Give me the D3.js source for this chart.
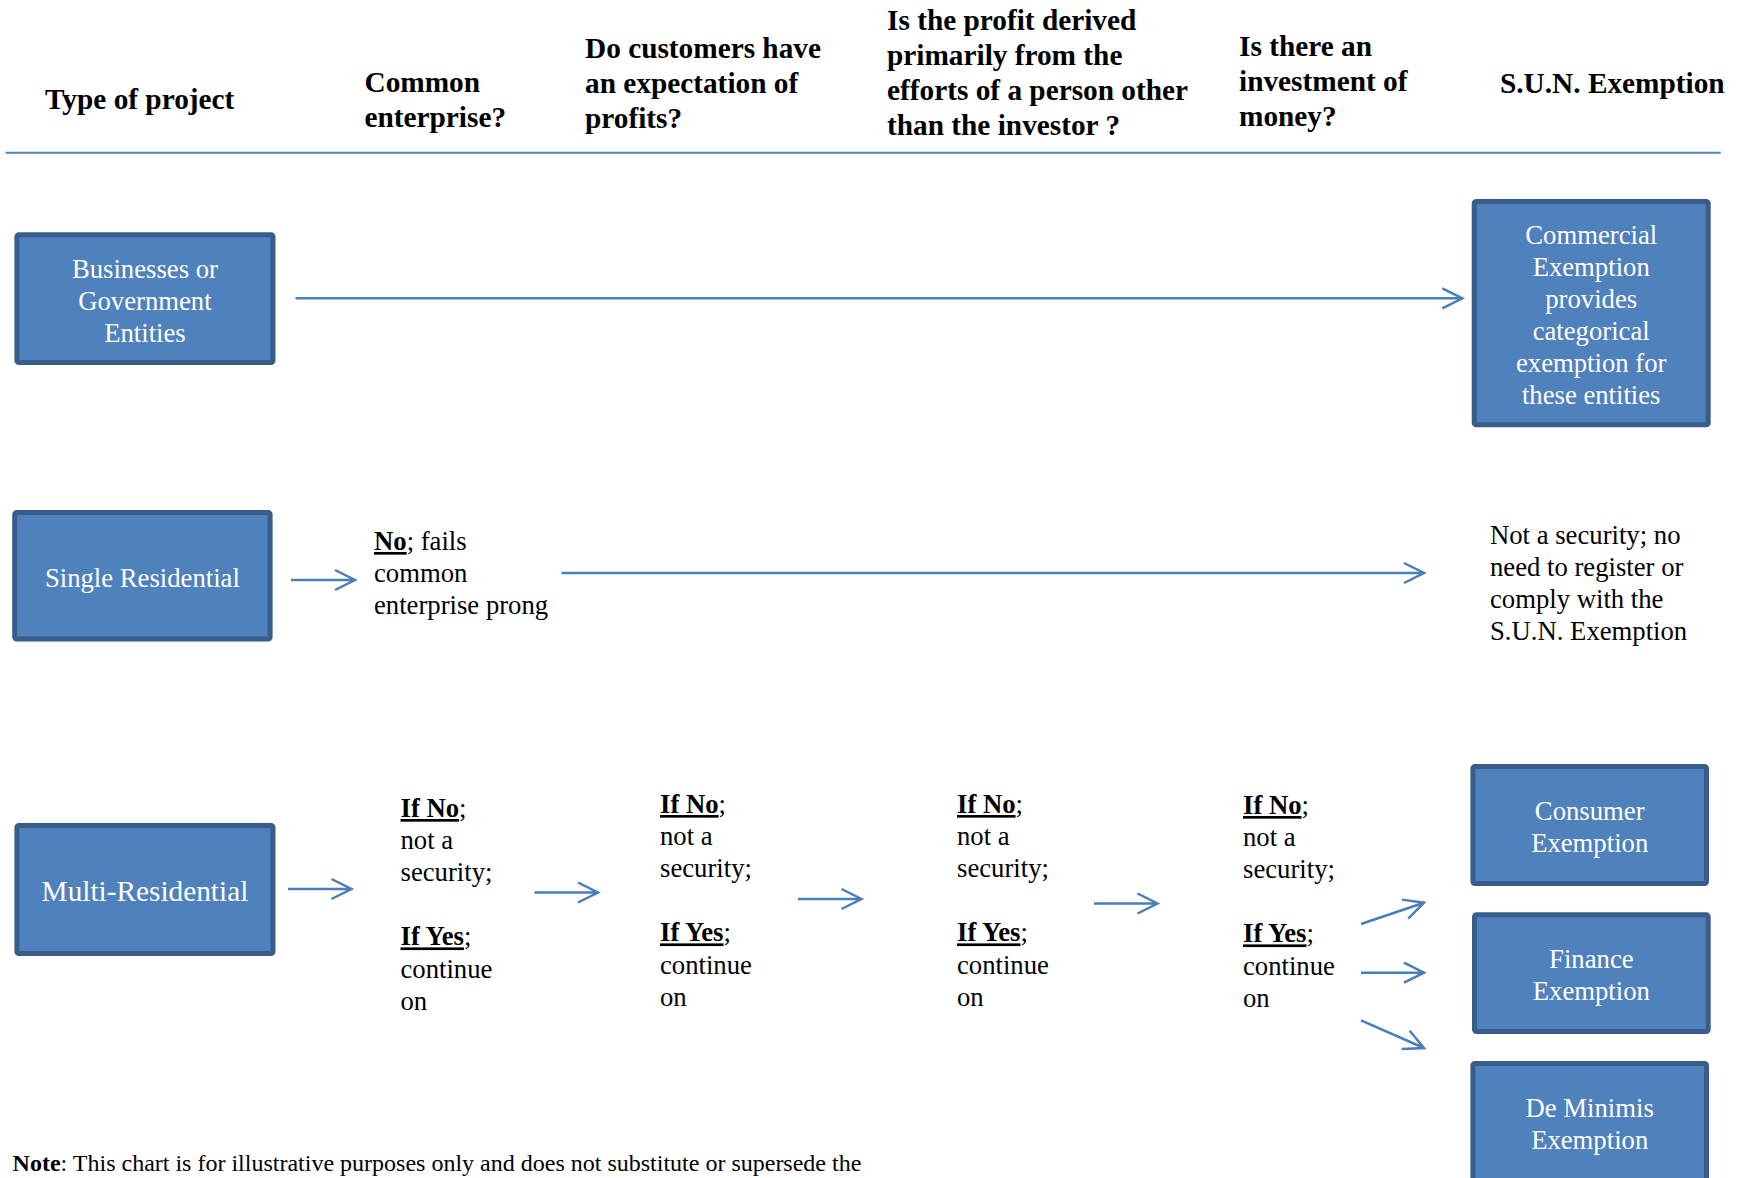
<!DOCTYPE html>
<html>
<head>
<meta charset="utf-8">
<script src="https://cdn.jsdelivr.net/npm/d3@7"></script>
<style>
    body { margin: 0; background: #fff; }
    svg { display: block; }
    text { font-family: "Liberation Serif", "Times New Roman", serif; }
</style>
</head>
<body>
<svg id="chart"></svg>
<script>
// ---- chart content ----
const columns = ['type', 'common', 'profits', 'efforts', 'investment', 'exemption'];
const headerLines = [
    ['Type of project'],
    ['Common', 'enterprise?'],
    ['Do customers have', 'an expectation of', 'profits?'],
    ['Is the profit derived', 'primarily from the', 'efforts of a person other', 'than the investor ?'],
    ['Is there an', 'investment of', 'money?'],
    ['S.U.N. Exemption']
];
const projectTypes = ['business', 'single', 'multi'];
const projectLabels = [
    ['Businesses or', 'Government', 'Entities'],
    ['Single Residential'],
    ['Multi-Residential']
];
const commercialLabel = ['Commercial', 'Exemption', 'provides', 'categorical', 'exemption for', 'these entities'];
const singleFailLines = ['*No*; fails', 'common', 'enterprise prong'];
const notSecurityLines = ['Not a security; no', 'need to register or', 'comply with the', 'S.U.N. Exemption'];
const testSteps = ['common', 'profits', 'efforts', 'investment'];
const stepLines = ['*If No*;', 'not a', 'security;', '', '*If Yes*;', 'continue', 'on'];
const exemptionTypes = ['consumer', 'finance', 'deminimis'];
const exemptionLabels = [['Consumer', 'Exemption'], ['Finance', 'Exemption'], ['De Minimis', 'Exemption']];
const noteText = '#Note#: This chart is for illustrative purposes only and does not substitute or supersede the';

// ---- layout ----
const width = 1745, height = 1178;
const blue = '#4f81bd', border = '#385d8a', arrowBlue = '#4a7ebb';
const bodySize = 26.7, headSize = 29.3, lineH = 32.1;

const headX = d3.scaleOrdinal().domain(columns).range([45, 364.5, 585, 887, 1239, 1500]);
const headY = d3.scaleOrdinal().domain(columns).range([108.5, 92, 58, 29.5, 56, 93]);

// outer edges of the boxes [x0, y0, x1, y1]
const projectBox = d3.scaleOrdinal().domain(projectTypes)
    .range([[14.4, 232.3, 275.5, 365], [12.2, 510, 272.6, 641.5], [14.4, 823, 275.5, 956]]);
const projectSize = d3.scaleOrdinal().domain(projectTypes).range([bodySize, bodySize, headSize]);
const commercialBox = [1471.7, 199, 1710.7, 427.3];
const exemptionBox = d3.scaleOrdinal().domain(exemptionTypes)
    .range([[1470.4, 764, 1709, 886], [1472, 912.3, 1710.7, 1034], [1470.4, 1061, 1709, 1183]]);

const stepX = d3.scaleOrdinal().domain(testSteps).range([400.5, 660, 957, 1243]);
const stepY = d3.scaleOrdinal().domain(testSteps).range([817, 813, 813, 814]);
const stepArrowX = d3.scaleOrdinal().domain(testSteps).range([288, 534.5, 798, 1094]);
const stepArrowY = d3.scaleOrdinal().domain(testSteps).range([889, 892.5, 899, 903.5]);
const fanY = d3.scaleOrdinal().domain(exemptionTypes).range([[924, 902.7], [972.7, 972.7], [1020.3, 1048]]);

const svg = d3.select('#chart')
    .attr('width', width)
    .attr('height', height);

// text with *bold underlined* and #bold# parts
function richLine(sel, str) {
    const parts = str.split(/(\*[^*]+\*|#[^#]+#)/).filter(function(p) { return p.length; });
    parts.forEach(function(p) {
        const t = sel.append('tspan');
        if (p[0] === '*') {
            t.text(p.slice(1, -1)).attr('font-weight', 'bold').style('text-decoration', 'underline');
        } else if (p[0] === '#') {
            t.text(p.slice(1, -1)).attr('font-weight', 'bold');
        } else {
            t.text(p);
        }
    });
}

function textBlock(g, lines, x, y0, opts) {
    opts = opts || {};
    g.selectAll(null)
        .data(lines)
      .enter()
      .append('text')
        .attr('x', x)
        .attr('y', function(d, i) { return y0 + i * (opts.lineH || lineH); })
        .attr('font-size', opts.size || bodySize)
        .attr('font-weight', opts.bold ? 'bold' : null)
        .attr('text-anchor', opts.anchor || 'start')
        .attr('fill', opts.fill || '#000')
        .each(function(d) { richLine(d3.select(this), d); });
}

function drawBox(b, lines, size) {
    const g = svg.append('g').attr('class', 'box');
    g.append('rect')
        .attr('x', b[0] + 2.5)
        .attr('y', b[1] + 2.5)
        .attr('width', b[2] - b[0] - 5)
        .attr('height', b[3] - b[1] - 5)
        .attr('rx', 2)
        .attr('fill', blue)
        .attr('stroke', border)
        .attr('stroke-width', 5);
    const cx = (b[0] + b[2]) / 2;
    const cy = (b[1] + b[3]) / 2;
    const first = cy - (lines.length - 1) / 2 * 32 + size * 0.34 + 2;
    textBlock(g, lines, cx, first, {size: size, lineH: 32, anchor: 'middle', fill: '#fff'});
}

function arrow(x1, y1, x2, y2) {
    const a = Math.atan2(y2 - y1, x2 - x1);
    const len = 20, half = 10;
    const bx = x2 - len * Math.cos(a), by = y2 - len * Math.sin(a);
    const p = d3.path();
    p.moveTo(x1, y1);
    p.lineTo(x2, y2);
    p.moveTo(bx - half * Math.sin(a), by + half * Math.cos(a));
    p.lineTo(x2, y2);
    p.lineTo(bx + half * Math.sin(a), by - half * Math.cos(a));
    svg.append('path')
        .attr('class', 'arrow')
        .attr('d', p.toString())
        .attr('fill', 'none')
        .attr('stroke', arrowBlue)
        .attr('stroke-width', 2.5);
}

// header
const head = svg.append('g').attr('class', 'header');
columns.forEach(function(c, i) {
    textBlock(head, headerLines[i], headX(c), headY(c), {size: headSize, lineH: 35, bold: true});
});
head.append('line')
    .attr('x1', 5.7).attr('x2', 1720.7)
    .attr('y1', 152.7).attr('y2', 152.7)
    .attr('stroke', blue)
    .attr('stroke-width', 2);

// project type boxes
projectTypes.forEach(function(p, i) {
    drawBox(projectBox(p), projectLabels[i], projectSize(p));
});

// row 1: businesses go straight to the commercial exemption
drawBox(commercialBox, commercialLabel, bodySize);
arrow(projectBox('business')[2] + 20, 298.3, commercialBox[0] - 9.4, 298.3);

// row 2: single residential fails the first prong
const single = svg.append('g').attr('class', 'single');
arrow(projectBox('single')[2] + 18.4, 580, projectBox('single')[2] + 82.4, 580);
textBlock(single, singleFailLines, headX('common') + 9.5, 550);
arrow(561.5, 573, 1424, 573);
textBlock(single, notSecurityLines, 1490, 543.5);

// row 3: multi-residential runs through every prong
const multi = svg.append('g').attr('class', 'multi');
testSteps.forEach(function(s) {
    arrow(stepArrowX(s), stepArrowY(s), stepArrowX(s) + 63.5, stepArrowY(s));
    textBlock(multi, stepLines, stepX(s), stepY(s));
});
exemptionTypes.forEach(function(e, i) {
    const y = fanY(e);
    arrow(1361, y[0], 1424, y[1]);
    drawBox(exemptionBox(e), exemptionLabels[i], bodySize);
});

// footnote along the bottom edge
textBlock(svg.append('g').attr('class', 'note'), [noteText], 12.6, 1171, {size: 24});
</script>
</body>
</html>
